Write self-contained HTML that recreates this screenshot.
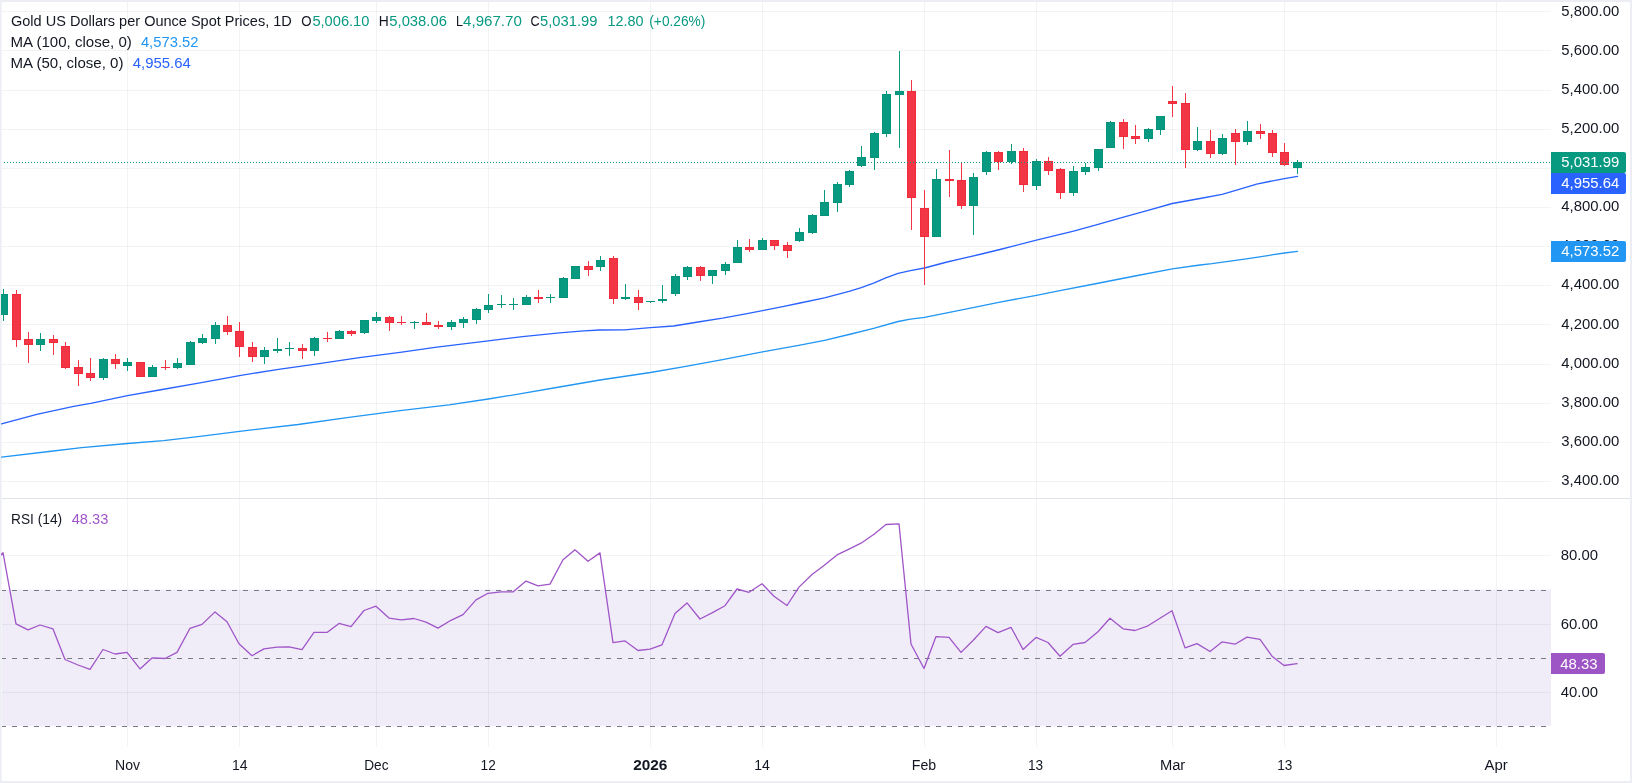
<!DOCTYPE html><html><head><meta charset="utf-8"><title>Gold chart</title><style>html,body{margin:0;padding:0;background:#fff;overflow:hidden}body{width:1632px;height:783px;position:relative;font-family:"Liberation Sans",sans-serif}</style></head><body><svg width="1632" height="783" viewBox="0 0 1632 783" style="position:absolute;left:0;top:0;font-family:'Liberation Sans',sans-serif;font-size:15.5px">
<rect x="0" y="0" width="1632" height="783" fill="#ffffff"/>
<rect x="1" y="2" width="1" height="779" fill="#f3f4f7" shape-rendering="crispEdges"/>
<g shape-rendering="crispEdges">
<rect x="2" y="589.6" width="1549" height="136.3" fill="#f0edf9" shape-rendering="auto"/>
<rect x="2" y="11" width="1549" height="1" fill="#f2f3f3" style="mix-blend-mode:multiply"/>
<rect x="2" y="50" width="1549" height="1" fill="#f2f3f3" style="mix-blend-mode:multiply"/>
<rect x="2" y="90" width="1549" height="1" fill="#f2f3f3" style="mix-blend-mode:multiply"/>
<rect x="2" y="129" width="1549" height="1" fill="#f2f3f3" style="mix-blend-mode:multiply"/>
<rect x="2" y="168" width="1549" height="1" fill="#f2f3f3" style="mix-blend-mode:multiply"/>
<rect x="2" y="207" width="1549" height="1" fill="#f2f3f3" style="mix-blend-mode:multiply"/>
<rect x="2" y="246" width="1549" height="1" fill="#f2f3f3" style="mix-blend-mode:multiply"/>
<rect x="2" y="285" width="1549" height="1" fill="#f2f3f3" style="mix-blend-mode:multiply"/>
<rect x="2" y="324" width="1549" height="1" fill="#f2f3f3" style="mix-blend-mode:multiply"/>
<rect x="2" y="364" width="1549" height="1" fill="#f2f3f3" style="mix-blend-mode:multiply"/>
<rect x="2" y="403" width="1549" height="1" fill="#f2f3f3" style="mix-blend-mode:multiply"/>
<rect x="2" y="442" width="1549" height="1" fill="#f2f3f3" style="mix-blend-mode:multiply"/>
<rect x="2" y="481" width="1549" height="1" fill="#f2f3f3" style="mix-blend-mode:multiply"/>
<rect x="2" y="555" width="1549" height="1" fill="#f2f3f3" style="mix-blend-mode:multiply"/>
<rect x="2" y="624" width="1549" height="1" fill="#f2f3f3" style="mix-blend-mode:multiply"/>
<rect x="2" y="692" width="1549" height="1" fill="#f2f3f3" style="mix-blend-mode:multiply"/>
<rect x="127" y="2" width="1" height="745" fill="#f2f3f3" style="mix-blend-mode:multiply"/>
<rect x="239" y="2" width="1" height="745" fill="#f2f3f3" style="mix-blend-mode:multiply"/>
<rect x="376" y="2" width="1" height="745" fill="#f2f3f3" style="mix-blend-mode:multiply"/>
<rect x="488" y="2" width="1" height="745" fill="#f2f3f3" style="mix-blend-mode:multiply"/>
<rect x="650" y="2" width="1" height="745" fill="#f2f3f3" style="mix-blend-mode:multiply"/>
<rect x="762" y="2" width="1" height="745" fill="#f2f3f3" style="mix-blend-mode:multiply"/>
<rect x="924" y="2" width="1" height="745" fill="#f2f3f3" style="mix-blend-mode:multiply"/>
<rect x="1036" y="2" width="1" height="745" fill="#f2f3f3" style="mix-blend-mode:multiply"/>
<rect x="1172" y="2" width="1" height="745" fill="#f2f3f3" style="mix-blend-mode:multiply"/>
<rect x="1284" y="2" width="1" height="745" fill="#f2f3f3" style="mix-blend-mode:multiply"/>
<rect x="1496" y="2" width="1" height="745" fill="#f2f3f3" style="mix-blend-mode:multiply"/>
</g>
<polyline fill="none" stroke="#2196f3" stroke-width="1.3" stroke-linejoin="round" stroke-linecap="round" points="1.5,457.2 49.0,451.5 81.7,447.6 127.5,443.5 163.5,440.6 200.0,436.4 239.5,431.3 298.1,424.5 347.1,417.7 400.0,410.6 449.0,404.8 488.3,399.0 522.6,393.4 559.4,387.0 600.0,380.0 650.4,372.5 685.8,366.3 722.6,359.6 762.5,351.8 800.0,345.1 824.5,340.4 849.0,334.5 873.6,328.4 898.1,321.5 910.4,319.2 924.5,317.3 959.4,310.4 1000.0,302.1 1036.4,295.3 1059.9,290.7 1096.8,283.5 1134.9,276.0 1172.3,268.9 1200.0,265.0 1211.9,263.7 1246.4,258.9 1269.4,255.3 1284.5,253.0 1297.5,251.4"/>
<polyline fill="none" stroke="#2962ff" stroke-width="1.3" stroke-linejoin="round" stroke-linecap="round" points="1.5,423.9 36.8,414.3 73.6,406.3 90.7,403.4 127.5,395.7 159.4,390.0 200.0,382.8 239.5,375.6 278.5,369.3 314.0,364.3 359.4,357.6 400.0,352.3 436.8,347.1 488.3,340.8 522.6,336.7 559.4,332.8 583.9,330.8 600.0,330.0 624.5,329.8 650.4,327.7 673.6,326.0 698.1,322.0 722.6,318.2 747.1,313.6 762.5,310.6 783.9,306.3 800.0,303.0 824.5,297.8 849.0,291.4 861.3,287.7 873.6,283.2 885.8,277.9 898.1,273.3 910.4,270.6 924.5,268.0 947.1,262.0 959.4,259.2 981.5,254.0 1000.0,249.5 1036.4,240.1 1073.6,231.1 1098.1,224.4 1122.6,217.4 1147.1,210.6 1172.3,203.5 1200.0,198.5 1222.1,194.3 1237.5,189.8 1256.6,184.2 1269.4,181.5 1284.5,178.7 1297.5,176.4"/>
<g shape-rendering="crispEdges">
<rect x="3" y="289" width="1" height="32" fill="#089981"/><rect x="-1" y="294" width="9" height="21" fill="#05937c"/>
<rect x="0" y="295" width="7" height="19" fill="#089981"/>
<rect x="16" y="290" width="1" height="57" fill="#f23645"/><rect x="12" y="294" width="9" height="46" fill="#f02b3b"/>
<rect x="13" y="295" width="7" height="44" fill="#f23645"/>
<rect x="28" y="332" width="1" height="31" fill="#f23645"/><rect x="24" y="339" width="9" height="6" fill="#f02b3b"/>
<rect x="25" y="340" width="7" height="4" fill="#f23645"/>
<rect x="40" y="333" width="1" height="18" fill="#089981"/><rect x="36" y="339" width="9" height="6" fill="#05937c"/>
<rect x="37" y="340" width="7" height="4" fill="#089981"/>
<rect x="53" y="335" width="1" height="20" fill="#f23645"/><rect x="49" y="339" width="9" height="4" fill="#f02b3b"/>
<rect x="50" y="340" width="7" height="2" fill="#f23645"/>
<rect x="65" y="342" width="1" height="27" fill="#f23645"/><rect x="61" y="346" width="9" height="22" fill="#f02b3b"/>
<rect x="62" y="347" width="7" height="20" fill="#f23645"/>
<rect x="78" y="360" width="1" height="26" fill="#f23645"/><rect x="74" y="367" width="9" height="7" fill="#f02b3b"/>
<rect x="75" y="368" width="7" height="5" fill="#f23645"/>
<rect x="90" y="358" width="1" height="23" fill="#f23645"/><rect x="86" y="373" width="9" height="5" fill="#f02b3b"/>
<rect x="87" y="374" width="7" height="3" fill="#f23645"/>
<rect x="103" y="358" width="1" height="22" fill="#089981"/><rect x="99" y="359" width="9" height="19" fill="#05937c"/>
<rect x="100" y="360" width="7" height="17" fill="#089981"/>
<rect x="115" y="354" width="1" height="15" fill="#f23645"/><rect x="111" y="359" width="9" height="5" fill="#f02b3b"/>
<rect x="112" y="360" width="7" height="3" fill="#f23645"/>
<rect x="127" y="358" width="1" height="13" fill="#089981"/><rect x="123" y="362" width="9" height="4" fill="#05937c"/>
<rect x="124" y="363" width="7" height="2" fill="#089981"/>
<rect x="140" y="362" width="1" height="15" fill="#f23645"/><rect x="136" y="362" width="9" height="15" fill="#f02b3b"/>
<rect x="137" y="363" width="7" height="13" fill="#f23645"/>
<rect x="152" y="365" width="1" height="12" fill="#089981"/><rect x="148" y="367" width="9" height="10" fill="#05937c"/>
<rect x="149" y="368" width="7" height="8" fill="#089981"/>
<rect x="165" y="360" width="1" height="10" fill="#f23645"/><rect x="161" y="367" width="9" height="1" fill="#f02b3b"/>
<rect x="177" y="358" width="1" height="11" fill="#089981"/><rect x="173" y="363" width="9" height="5" fill="#05937c"/>
<rect x="174" y="364" width="7" height="3" fill="#089981"/>
<rect x="190" y="341" width="1" height="24" fill="#089981"/><rect x="186" y="342" width="9" height="23" fill="#05937c"/>
<rect x="187" y="343" width="7" height="21" fill="#089981"/>
<rect x="202" y="334" width="1" height="10" fill="#089981"/><rect x="198" y="338" width="9" height="5" fill="#05937c"/>
<rect x="199" y="339" width="7" height="3" fill="#089981"/>
<rect x="215" y="322" width="1" height="22" fill="#089981"/><rect x="211" y="325" width="9" height="14" fill="#05937c"/>
<rect x="212" y="326" width="7" height="12" fill="#089981"/>
<rect x="227" y="316" width="1" height="19" fill="#f23645"/><rect x="223" y="325" width="9" height="7" fill="#f02b3b"/>
<rect x="224" y="326" width="7" height="5" fill="#f23645"/>
<rect x="239" y="322" width="1" height="35" fill="#f23645"/><rect x="235" y="331" width="9" height="16" fill="#f02b3b"/>
<rect x="236" y="332" width="7" height="14" fill="#f23645"/>
<rect x="252" y="342" width="1" height="20" fill="#f23645"/><rect x="248" y="347" width="9" height="10" fill="#f02b3b"/>
<rect x="249" y="348" width="7" height="8" fill="#f23645"/>
<rect x="264" y="347" width="1" height="17" fill="#089981"/><rect x="260" y="350" width="9" height="7" fill="#05937c"/>
<rect x="261" y="351" width="7" height="5" fill="#089981"/>
<rect x="277" y="338" width="1" height="15" fill="#089981"/><rect x="273" y="349" width="9" height="2" fill="#05937c"/>
<rect x="289" y="342" width="1" height="14" fill="#089981"/><rect x="285" y="348" width="9" height="1" fill="#05937c"/>
<rect x="302" y="344" width="1" height="15" fill="#f23645"/><rect x="298" y="348" width="9" height="3" fill="#f02b3b"/>
<rect x="299" y="349" width="7" height="1" fill="#f23645"/>
<rect x="314" y="337" width="1" height="19" fill="#089981"/><rect x="310" y="338" width="9" height="13" fill="#05937c"/>
<rect x="311" y="339" width="7" height="11" fill="#089981"/>
<rect x="327" y="332" width="1" height="10" fill="#f23645"/><rect x="323" y="338" width="9" height="1" fill="#f02b3b"/>
<rect x="339" y="330" width="1" height="9" fill="#089981"/><rect x="335" y="331" width="9" height="8" fill="#05937c"/>
<rect x="336" y="332" width="7" height="6" fill="#089981"/>
<rect x="351" y="330" width="1" height="6" fill="#f23645"/><rect x="347" y="331" width="9" height="3" fill="#f02b3b"/>
<rect x="348" y="332" width="7" height="1" fill="#f23645"/>
<rect x="364" y="320" width="1" height="14" fill="#089981"/><rect x="360" y="320" width="9" height="13" fill="#05937c"/>
<rect x="361" y="321" width="7" height="11" fill="#089981"/>
<rect x="376" y="312" width="1" height="11" fill="#089981"/><rect x="372" y="317" width="9" height="4" fill="#05937c"/>
<rect x="373" y="318" width="7" height="2" fill="#089981"/>
<rect x="389" y="316" width="1" height="15" fill="#f23645"/><rect x="385" y="317" width="9" height="6" fill="#f02b3b"/>
<rect x="386" y="318" width="7" height="4" fill="#f23645"/>
<rect x="401" y="316" width="1" height="9" fill="#f23645"/><rect x="397" y="322" width="9" height="1" fill="#f02b3b"/>
<rect x="414" y="321" width="1" height="8" fill="#089981"/><rect x="410" y="322" width="9" height="1" fill="#05937c"/>
<rect x="426" y="313" width="1" height="12" fill="#f23645"/><rect x="422" y="322" width="9" height="3" fill="#f02b3b"/>
<rect x="423" y="323" width="7" height="1" fill="#f23645"/>
<rect x="438" y="321" width="1" height="8" fill="#f23645"/><rect x="434" y="325" width="9" height="2" fill="#f02b3b"/>
<rect x="451" y="320" width="1" height="10" fill="#089981"/><rect x="447" y="322" width="9" height="5" fill="#05937c"/>
<rect x="448" y="323" width="7" height="3" fill="#089981"/>
<rect x="463" y="317" width="1" height="11" fill="#089981"/><rect x="459" y="319" width="9" height="4" fill="#05937c"/>
<rect x="460" y="320" width="7" height="2" fill="#089981"/>
<rect x="476" y="308" width="1" height="16" fill="#089981"/><rect x="472" y="309" width="9" height="11" fill="#05937c"/>
<rect x="473" y="310" width="7" height="9" fill="#089981"/>
<rect x="488" y="294" width="1" height="19" fill="#089981"/><rect x="484" y="305" width="9" height="5" fill="#05937c"/>
<rect x="485" y="306" width="7" height="3" fill="#089981"/>
<rect x="501" y="295" width="1" height="13" fill="#089981"/><rect x="497" y="304" width="9" height="1" fill="#05937c"/>
<rect x="513" y="298" width="1" height="12" fill="#089981"/><rect x="509" y="304" width="9" height="1" fill="#05937c"/>
<rect x="526" y="295" width="1" height="10" fill="#089981"/><rect x="522" y="297" width="9" height="8" fill="#05937c"/>
<rect x="523" y="298" width="7" height="6" fill="#089981"/>
<rect x="538" y="290" width="1" height="13" fill="#f23645"/><rect x="534" y="297" width="9" height="2" fill="#f02b3b"/>
<rect x="550" y="294" width="1" height="9" fill="#089981"/><rect x="546" y="297" width="9" height="1" fill="#05937c"/>
<rect x="563" y="277" width="1" height="21" fill="#089981"/><rect x="559" y="278" width="9" height="20" fill="#05937c"/>
<rect x="560" y="279" width="7" height="18" fill="#089981"/>
<rect x="575" y="266" width="1" height="13" fill="#089981"/><rect x="571" y="266" width="9" height="13" fill="#05937c"/>
<rect x="572" y="267" width="7" height="11" fill="#089981"/>
<rect x="588" y="261" width="1" height="15" fill="#f23645"/><rect x="584" y="266" width="9" height="4" fill="#f02b3b"/>
<rect x="585" y="267" width="7" height="2" fill="#f23645"/>
<rect x="600" y="256" width="1" height="15" fill="#089981"/><rect x="596" y="260" width="9" height="7" fill="#05937c"/>
<rect x="597" y="261" width="7" height="5" fill="#089981"/>
<rect x="613" y="256" width="1" height="48" fill="#f23645"/><rect x="609" y="258" width="9" height="41" fill="#f02b3b"/>
<rect x="610" y="259" width="7" height="39" fill="#f23645"/>
<rect x="625" y="284" width="1" height="16" fill="#089981"/><rect x="621" y="297" width="9" height="2" fill="#05937c"/>
<rect x="638" y="290" width="1" height="20" fill="#f23645"/><rect x="634" y="297" width="9" height="6" fill="#f02b3b"/>
<rect x="635" y="298" width="7" height="4" fill="#f23645"/>
<rect x="650" y="301" width="1" height="2" fill="#089981"/><rect x="646" y="301" width="9" height="1" fill="#05937c"/>
<rect x="662" y="285" width="1" height="18" fill="#089981"/><rect x="658" y="299" width="9" height="2" fill="#05937c"/>
<rect x="675" y="274" width="1" height="22" fill="#089981"/><rect x="671" y="276" width="9" height="18" fill="#05937c"/>
<rect x="672" y="277" width="7" height="16" fill="#089981"/>
<rect x="687" y="266" width="1" height="14" fill="#089981"/><rect x="683" y="267" width="9" height="10" fill="#05937c"/>
<rect x="684" y="268" width="7" height="8" fill="#089981"/>
<rect x="700" y="266" width="1" height="15" fill="#f23645"/><rect x="696" y="267" width="9" height="9" fill="#f02b3b"/>
<rect x="697" y="268" width="7" height="7" fill="#f23645"/>
<rect x="712" y="270" width="1" height="14" fill="#089981"/><rect x="708" y="270" width="9" height="6" fill="#05937c"/>
<rect x="709" y="271" width="7" height="4" fill="#089981"/>
<rect x="725" y="262" width="1" height="13" fill="#089981"/><rect x="721" y="264" width="9" height="7" fill="#05937c"/>
<rect x="722" y="265" width="7" height="5" fill="#089981"/>
<rect x="737" y="240" width="1" height="23" fill="#089981"/><rect x="733" y="247" width="9" height="16" fill="#05937c"/>
<rect x="734" y="248" width="7" height="14" fill="#089981"/>
<rect x="749" y="239" width="1" height="13" fill="#f23645"/><rect x="745" y="247" width="9" height="3" fill="#f02b3b"/>
<rect x="746" y="248" width="7" height="1" fill="#f23645"/>
<rect x="762" y="238" width="1" height="12" fill="#089981"/><rect x="758" y="240" width="9" height="10" fill="#05937c"/>
<rect x="759" y="241" width="7" height="8" fill="#089981"/>
<rect x="774" y="240" width="1" height="10" fill="#f23645"/><rect x="770" y="240" width="9" height="6" fill="#f02b3b"/>
<rect x="771" y="241" width="7" height="4" fill="#f23645"/>
<rect x="787" y="242" width="1" height="16" fill="#f23645"/><rect x="783" y="245" width="9" height="6" fill="#f02b3b"/>
<rect x="784" y="246" width="7" height="4" fill="#f23645"/>
<rect x="799" y="228" width="1" height="14" fill="#089981"/><rect x="795" y="232" width="9" height="9" fill="#05937c"/>
<rect x="796" y="233" width="7" height="7" fill="#089981"/>
<rect x="812" y="214" width="1" height="20" fill="#089981"/><rect x="808" y="215" width="9" height="18" fill="#05937c"/>
<rect x="809" y="216" width="7" height="16" fill="#089981"/>
<rect x="824" y="190" width="1" height="26" fill="#089981"/><rect x="820" y="202" width="9" height="14" fill="#05937c"/>
<rect x="821" y="203" width="7" height="12" fill="#089981"/>
<rect x="837" y="182" width="1" height="30" fill="#089981"/><rect x="833" y="184" width="9" height="19" fill="#05937c"/>
<rect x="834" y="185" width="7" height="17" fill="#089981"/>
<rect x="849" y="170" width="1" height="17" fill="#089981"/><rect x="845" y="171" width="9" height="14" fill="#05937c"/>
<rect x="846" y="172" width="7" height="12" fill="#089981"/>
<rect x="861" y="146" width="1" height="21" fill="#089981"/><rect x="857" y="157" width="9" height="9" fill="#05937c"/>
<rect x="858" y="158" width="7" height="7" fill="#089981"/>
<rect x="874" y="132" width="1" height="38" fill="#089981"/><rect x="870" y="133" width="9" height="25" fill="#05937c"/>
<rect x="871" y="134" width="7" height="23" fill="#089981"/>
<rect x="886" y="91" width="1" height="46" fill="#089981"/><rect x="882" y="94" width="9" height="40" fill="#05937c"/>
<rect x="883" y="95" width="7" height="38" fill="#089981"/>
<rect x="899" y="51" width="1" height="97" fill="#089981"/><rect x="895" y="91" width="9" height="4" fill="#05937c"/>
<rect x="896" y="92" width="7" height="2" fill="#089981"/>
<rect x="911" y="80" width="1" height="150" fill="#f23645"/><rect x="907" y="91" width="9" height="107" fill="#f02b3b"/>
<rect x="908" y="92" width="7" height="105" fill="#f23645"/>
<rect x="924" y="190" width="1" height="95" fill="#f23645"/><rect x="920" y="208" width="9" height="29" fill="#f02b3b"/>
<rect x="921" y="209" width="7" height="27" fill="#f23645"/>
<rect x="936" y="169" width="1" height="68" fill="#089981"/><rect x="932" y="179" width="9" height="58" fill="#05937c"/>
<rect x="933" y="180" width="7" height="56" fill="#089981"/>
<rect x="949" y="150" width="1" height="47" fill="#f23645"/><rect x="945" y="179" width="9" height="2" fill="#f02b3b"/>
<rect x="961" y="162" width="1" height="47" fill="#f23645"/><rect x="957" y="180" width="9" height="26" fill="#f02b3b"/>
<rect x="958" y="181" width="7" height="24" fill="#f23645"/>
<rect x="973" y="173" width="1" height="62" fill="#089981"/><rect x="969" y="177" width="9" height="29" fill="#05937c"/>
<rect x="970" y="178" width="7" height="27" fill="#089981"/>
<rect x="986" y="151" width="1" height="24" fill="#089981"/><rect x="982" y="152" width="9" height="20" fill="#05937c"/>
<rect x="983" y="153" width="7" height="18" fill="#089981"/>
<rect x="998" y="151" width="1" height="19" fill="#f23645"/><rect x="994" y="152" width="9" height="10" fill="#f02b3b"/>
<rect x="995" y="153" width="7" height="8" fill="#f23645"/>
<rect x="1011" y="144" width="1" height="20" fill="#089981"/><rect x="1007" y="151" width="9" height="11" fill="#05937c"/>
<rect x="1008" y="152" width="7" height="9" fill="#089981"/>
<rect x="1023" y="148" width="1" height="44" fill="#f23645"/><rect x="1019" y="151" width="9" height="34" fill="#f02b3b"/>
<rect x="1020" y="152" width="7" height="32" fill="#f23645"/>
<rect x="1036" y="159" width="1" height="31" fill="#089981"/><rect x="1032" y="161" width="9" height="25" fill="#05937c"/>
<rect x="1033" y="162" width="7" height="23" fill="#089981"/>
<rect x="1048" y="157" width="1" height="18" fill="#f23645"/><rect x="1044" y="161" width="9" height="10" fill="#f02b3b"/>
<rect x="1045" y="162" width="7" height="8" fill="#f23645"/>
<rect x="1060" y="168" width="1" height="31" fill="#f23645"/><rect x="1056" y="169" width="9" height="24" fill="#f02b3b"/>
<rect x="1057" y="170" width="7" height="22" fill="#f23645"/>
<rect x="1073" y="166" width="1" height="30" fill="#089981"/><rect x="1069" y="171" width="9" height="22" fill="#05937c"/>
<rect x="1070" y="172" width="7" height="20" fill="#089981"/>
<rect x="1085" y="163" width="1" height="12" fill="#089981"/><rect x="1081" y="167" width="9" height="5" fill="#05937c"/>
<rect x="1082" y="168" width="7" height="3" fill="#089981"/>
<rect x="1098" y="149" width="1" height="22" fill="#089981"/><rect x="1094" y="149" width="9" height="19" fill="#05937c"/>
<rect x="1095" y="150" width="7" height="17" fill="#089981"/>
<rect x="1110" y="121" width="1" height="27" fill="#089981"/><rect x="1106" y="122" width="9" height="26" fill="#05937c"/>
<rect x="1107" y="123" width="7" height="24" fill="#089981"/>
<rect x="1123" y="119" width="1" height="30" fill="#f23645"/><rect x="1119" y="122" width="9" height="15" fill="#f02b3b"/>
<rect x="1120" y="123" width="7" height="13" fill="#f23645"/>
<rect x="1135" y="125" width="1" height="19" fill="#f23645"/><rect x="1131" y="136" width="9" height="3" fill="#f02b3b"/>
<rect x="1132" y="137" width="7" height="1" fill="#f23645"/>
<rect x="1148" y="128" width="1" height="14" fill="#089981"/><rect x="1144" y="129" width="9" height="10" fill="#05937c"/>
<rect x="1145" y="130" width="7" height="8" fill="#089981"/>
<rect x="1160" y="116" width="1" height="19" fill="#089981"/><rect x="1156" y="116" width="9" height="14" fill="#05937c"/>
<rect x="1157" y="117" width="7" height="12" fill="#089981"/>
<rect x="1172" y="86" width="1" height="31" fill="#f23645"/><rect x="1168" y="101" width="9" height="3" fill="#f02b3b"/>
<rect x="1169" y="102" width="7" height="1" fill="#f23645"/>
<rect x="1185" y="93" width="1" height="75" fill="#f23645"/><rect x="1181" y="103" width="9" height="47" fill="#f02b3b"/>
<rect x="1182" y="104" width="7" height="45" fill="#f23645"/>
<rect x="1197" y="127" width="1" height="24" fill="#089981"/><rect x="1193" y="141" width="9" height="9" fill="#05937c"/>
<rect x="1194" y="142" width="7" height="7" fill="#089981"/>
<rect x="1210" y="130" width="1" height="28" fill="#f23645"/><rect x="1206" y="141" width="9" height="13" fill="#f02b3b"/>
<rect x="1207" y="142" width="7" height="11" fill="#f23645"/>
<rect x="1222" y="134" width="1" height="21" fill="#089981"/><rect x="1218" y="138" width="9" height="16" fill="#05937c"/>
<rect x="1219" y="139" width="7" height="14" fill="#089981"/>
<rect x="1235" y="129" width="1" height="36" fill="#f23645"/><rect x="1231" y="133" width="9" height="9" fill="#f02b3b"/>
<rect x="1232" y="134" width="7" height="7" fill="#f23645"/>
<rect x="1247" y="121" width="1" height="24" fill="#089981"/><rect x="1243" y="131" width="9" height="11" fill="#05937c"/>
<rect x="1244" y="132" width="7" height="9" fill="#089981"/>
<rect x="1260" y="124" width="1" height="15" fill="#f23645"/><rect x="1256" y="131" width="9" height="3" fill="#f02b3b"/>
<rect x="1257" y="132" width="7" height="1" fill="#f23645"/>
<rect x="1272" y="130" width="1" height="27" fill="#f23645"/><rect x="1268" y="133" width="9" height="20" fill="#f02b3b"/>
<rect x="1269" y="134" width="7" height="18" fill="#f23645"/>
<rect x="1284" y="143" width="1" height="23" fill="#f23645"/><rect x="1280" y="152" width="9" height="13" fill="#f02b3b"/>
<rect x="1281" y="153" width="7" height="11" fill="#f23645"/>
<rect x="1297" y="160" width="1" height="14" fill="#089981"/><rect x="1293" y="162" width="9" height="6" fill="#05937c"/>
<rect x="1294" y="163" width="7" height="4" fill="#089981"/>
<g fill="#089981"><rect x="4" y="162" width="1" height="1"/><rect x="7" y="162" width="1" height="1"/><rect x="10" y="162" width="1" height="1"/><rect x="13" y="162" width="1" height="1"/><rect x="16" y="162" width="1" height="1"/><rect x="19" y="162" width="1" height="1"/><rect x="22" y="162" width="1" height="1"/><rect x="25" y="162" width="1" height="1"/><rect x="28" y="162" width="1" height="1"/><rect x="31" y="162" width="1" height="1"/><rect x="34" y="162" width="1" height="1"/><rect x="37" y="162" width="1" height="1"/><rect x="40" y="162" width="1" height="1"/><rect x="43" y="162" width="1" height="1"/><rect x="46" y="162" width="1" height="1"/><rect x="49" y="162" width="1" height="1"/><rect x="52" y="162" width="1" height="1"/><rect x="55" y="162" width="1" height="1"/><rect x="58" y="162" width="1" height="1"/><rect x="61" y="162" width="1" height="1"/><rect x="64" y="162" width="1" height="1"/><rect x="67" y="162" width="1" height="1"/><rect x="70" y="162" width="1" height="1"/><rect x="73" y="162" width="1" height="1"/><rect x="76" y="162" width="1" height="1"/><rect x="79" y="162" width="1" height="1"/><rect x="82" y="162" width="1" height="1"/><rect x="85" y="162" width="1" height="1"/><rect x="88" y="162" width="1" height="1"/><rect x="91" y="162" width="1" height="1"/><rect x="94" y="162" width="1" height="1"/><rect x="97" y="162" width="1" height="1"/><rect x="100" y="162" width="1" height="1"/><rect x="103" y="162" width="1" height="1"/><rect x="106" y="162" width="1" height="1"/><rect x="109" y="162" width="1" height="1"/><rect x="112" y="162" width="1" height="1"/><rect x="115" y="162" width="1" height="1"/><rect x="118" y="162" width="1" height="1"/><rect x="121" y="162" width="1" height="1"/><rect x="124" y="162" width="1" height="1"/><rect x="127" y="162" width="1" height="1"/><rect x="130" y="162" width="1" height="1"/><rect x="133" y="162" width="1" height="1"/><rect x="136" y="162" width="1" height="1"/><rect x="139" y="162" width="1" height="1"/><rect x="142" y="162" width="1" height="1"/><rect x="145" y="162" width="1" height="1"/><rect x="148" y="162" width="1" height="1"/><rect x="151" y="162" width="1" height="1"/><rect x="154" y="162" width="1" height="1"/><rect x="157" y="162" width="1" height="1"/><rect x="160" y="162" width="1" height="1"/><rect x="163" y="162" width="1" height="1"/><rect x="166" y="162" width="1" height="1"/><rect x="169" y="162" width="1" height="1"/><rect x="172" y="162" width="1" height="1"/><rect x="175" y="162" width="1" height="1"/><rect x="178" y="162" width="1" height="1"/><rect x="181" y="162" width="1" height="1"/><rect x="184" y="162" width="1" height="1"/><rect x="187" y="162" width="1" height="1"/><rect x="190" y="162" width="1" height="1"/><rect x="193" y="162" width="1" height="1"/><rect x="196" y="162" width="1" height="1"/><rect x="199" y="162" width="1" height="1"/><rect x="202" y="162" width="1" height="1"/><rect x="205" y="162" width="1" height="1"/><rect x="208" y="162" width="1" height="1"/><rect x="211" y="162" width="1" height="1"/><rect x="214" y="162" width="1" height="1"/><rect x="217" y="162" width="1" height="1"/><rect x="220" y="162" width="1" height="1"/><rect x="223" y="162" width="1" height="1"/><rect x="226" y="162" width="1" height="1"/><rect x="229" y="162" width="1" height="1"/><rect x="232" y="162" width="1" height="1"/><rect x="235" y="162" width="1" height="1"/><rect x="238" y="162" width="1" height="1"/><rect x="241" y="162" width="1" height="1"/><rect x="244" y="162" width="1" height="1"/><rect x="247" y="162" width="1" height="1"/><rect x="250" y="162" width="1" height="1"/><rect x="253" y="162" width="1" height="1"/><rect x="256" y="162" width="1" height="1"/><rect x="259" y="162" width="1" height="1"/><rect x="262" y="162" width="1" height="1"/><rect x="265" y="162" width="1" height="1"/><rect x="268" y="162" width="1" height="1"/><rect x="271" y="162" width="1" height="1"/><rect x="274" y="162" width="1" height="1"/><rect x="277" y="162" width="1" height="1"/><rect x="280" y="162" width="1" height="1"/><rect x="283" y="162" width="1" height="1"/><rect x="286" y="162" width="1" height="1"/><rect x="289" y="162" width="1" height="1"/><rect x="292" y="162" width="1" height="1"/><rect x="295" y="162" width="1" height="1"/><rect x="298" y="162" width="1" height="1"/><rect x="301" y="162" width="1" height="1"/><rect x="304" y="162" width="1" height="1"/><rect x="307" y="162" width="1" height="1"/><rect x="310" y="162" width="1" height="1"/><rect x="313" y="162" width="1" height="1"/><rect x="316" y="162" width="1" height="1"/><rect x="319" y="162" width="1" height="1"/><rect x="322" y="162" width="1" height="1"/><rect x="325" y="162" width="1" height="1"/><rect x="328" y="162" width="1" height="1"/><rect x="331" y="162" width="1" height="1"/><rect x="334" y="162" width="1" height="1"/><rect x="337" y="162" width="1" height="1"/><rect x="340" y="162" width="1" height="1"/><rect x="343" y="162" width="1" height="1"/><rect x="346" y="162" width="1" height="1"/><rect x="349" y="162" width="1" height="1"/><rect x="352" y="162" width="1" height="1"/><rect x="355" y="162" width="1" height="1"/><rect x="358" y="162" width="1" height="1"/><rect x="361" y="162" width="1" height="1"/><rect x="364" y="162" width="1" height="1"/><rect x="367" y="162" width="1" height="1"/><rect x="370" y="162" width="1" height="1"/><rect x="373" y="162" width="1" height="1"/><rect x="376" y="162" width="1" height="1"/><rect x="379" y="162" width="1" height="1"/><rect x="382" y="162" width="1" height="1"/><rect x="385" y="162" width="1" height="1"/><rect x="388" y="162" width="1" height="1"/><rect x="391" y="162" width="1" height="1"/><rect x="394" y="162" width="1" height="1"/><rect x="397" y="162" width="1" height="1"/><rect x="400" y="162" width="1" height="1"/><rect x="403" y="162" width="1" height="1"/><rect x="406" y="162" width="1" height="1"/><rect x="409" y="162" width="1" height="1"/><rect x="412" y="162" width="1" height="1"/><rect x="415" y="162" width="1" height="1"/><rect x="418" y="162" width="1" height="1"/><rect x="421" y="162" width="1" height="1"/><rect x="424" y="162" width="1" height="1"/><rect x="427" y="162" width="1" height="1"/><rect x="430" y="162" width="1" height="1"/><rect x="433" y="162" width="1" height="1"/><rect x="436" y="162" width="1" height="1"/><rect x="439" y="162" width="1" height="1"/><rect x="442" y="162" width="1" height="1"/><rect x="445" y="162" width="1" height="1"/><rect x="448" y="162" width="1" height="1"/><rect x="451" y="162" width="1" height="1"/><rect x="454" y="162" width="1" height="1"/><rect x="457" y="162" width="1" height="1"/><rect x="460" y="162" width="1" height="1"/><rect x="463" y="162" width="1" height="1"/><rect x="466" y="162" width="1" height="1"/><rect x="469" y="162" width="1" height="1"/><rect x="472" y="162" width="1" height="1"/><rect x="475" y="162" width="1" height="1"/><rect x="478" y="162" width="1" height="1"/><rect x="481" y="162" width="1" height="1"/><rect x="484" y="162" width="1" height="1"/><rect x="487" y="162" width="1" height="1"/><rect x="490" y="162" width="1" height="1"/><rect x="493" y="162" width="1" height="1"/><rect x="496" y="162" width="1" height="1"/><rect x="499" y="162" width="1" height="1"/><rect x="502" y="162" width="1" height="1"/><rect x="505" y="162" width="1" height="1"/><rect x="508" y="162" width="1" height="1"/><rect x="511" y="162" width="1" height="1"/><rect x="514" y="162" width="1" height="1"/><rect x="517" y="162" width="1" height="1"/><rect x="520" y="162" width="1" height="1"/><rect x="523" y="162" width="1" height="1"/><rect x="526" y="162" width="1" height="1"/><rect x="529" y="162" width="1" height="1"/><rect x="532" y="162" width="1" height="1"/><rect x="535" y="162" width="1" height="1"/><rect x="538" y="162" width="1" height="1"/><rect x="541" y="162" width="1" height="1"/><rect x="544" y="162" width="1" height="1"/><rect x="547" y="162" width="1" height="1"/><rect x="550" y="162" width="1" height="1"/><rect x="553" y="162" width="1" height="1"/><rect x="556" y="162" width="1" height="1"/><rect x="559" y="162" width="1" height="1"/><rect x="562" y="162" width="1" height="1"/><rect x="565" y="162" width="1" height="1"/><rect x="568" y="162" width="1" height="1"/><rect x="571" y="162" width="1" height="1"/><rect x="574" y="162" width="1" height="1"/><rect x="577" y="162" width="1" height="1"/><rect x="580" y="162" width="1" height="1"/><rect x="583" y="162" width="1" height="1"/><rect x="586" y="162" width="1" height="1"/><rect x="589" y="162" width="1" height="1"/><rect x="592" y="162" width="1" height="1"/><rect x="595" y="162" width="1" height="1"/><rect x="598" y="162" width="1" height="1"/><rect x="601" y="162" width="1" height="1"/><rect x="604" y="162" width="1" height="1"/><rect x="607" y="162" width="1" height="1"/><rect x="610" y="162" width="1" height="1"/><rect x="613" y="162" width="1" height="1"/><rect x="616" y="162" width="1" height="1"/><rect x="619" y="162" width="1" height="1"/><rect x="622" y="162" width="1" height="1"/><rect x="625" y="162" width="1" height="1"/><rect x="628" y="162" width="1" height="1"/><rect x="631" y="162" width="1" height="1"/><rect x="634" y="162" width="1" height="1"/><rect x="637" y="162" width="1" height="1"/><rect x="640" y="162" width="1" height="1"/><rect x="643" y="162" width="1" height="1"/><rect x="646" y="162" width="1" height="1"/><rect x="649" y="162" width="1" height="1"/><rect x="652" y="162" width="1" height="1"/><rect x="655" y="162" width="1" height="1"/><rect x="658" y="162" width="1" height="1"/><rect x="661" y="162" width="1" height="1"/><rect x="664" y="162" width="1" height="1"/><rect x="667" y="162" width="1" height="1"/><rect x="670" y="162" width="1" height="1"/><rect x="673" y="162" width="1" height="1"/><rect x="676" y="162" width="1" height="1"/><rect x="679" y="162" width="1" height="1"/><rect x="682" y="162" width="1" height="1"/><rect x="685" y="162" width="1" height="1"/><rect x="688" y="162" width="1" height="1"/><rect x="691" y="162" width="1" height="1"/><rect x="694" y="162" width="1" height="1"/><rect x="697" y="162" width="1" height="1"/><rect x="700" y="162" width="1" height="1"/><rect x="703" y="162" width="1" height="1"/><rect x="706" y="162" width="1" height="1"/><rect x="709" y="162" width="1" height="1"/><rect x="712" y="162" width="1" height="1"/><rect x="715" y="162" width="1" height="1"/><rect x="718" y="162" width="1" height="1"/><rect x="721" y="162" width="1" height="1"/><rect x="724" y="162" width="1" height="1"/><rect x="727" y="162" width="1" height="1"/><rect x="730" y="162" width="1" height="1"/><rect x="733" y="162" width="1" height="1"/><rect x="736" y="162" width="1" height="1"/><rect x="739" y="162" width="1" height="1"/><rect x="742" y="162" width="1" height="1"/><rect x="745" y="162" width="1" height="1"/><rect x="748" y="162" width="1" height="1"/><rect x="751" y="162" width="1" height="1"/><rect x="754" y="162" width="1" height="1"/><rect x="757" y="162" width="1" height="1"/><rect x="760" y="162" width="1" height="1"/><rect x="763" y="162" width="1" height="1"/><rect x="766" y="162" width="1" height="1"/><rect x="769" y="162" width="1" height="1"/><rect x="772" y="162" width="1" height="1"/><rect x="775" y="162" width="1" height="1"/><rect x="778" y="162" width="1" height="1"/><rect x="781" y="162" width="1" height="1"/><rect x="784" y="162" width="1" height="1"/><rect x="787" y="162" width="1" height="1"/><rect x="790" y="162" width="1" height="1"/><rect x="793" y="162" width="1" height="1"/><rect x="796" y="162" width="1" height="1"/><rect x="799" y="162" width="1" height="1"/><rect x="802" y="162" width="1" height="1"/><rect x="805" y="162" width="1" height="1"/><rect x="808" y="162" width="1" height="1"/><rect x="811" y="162" width="1" height="1"/><rect x="814" y="162" width="1" height="1"/><rect x="817" y="162" width="1" height="1"/><rect x="820" y="162" width="1" height="1"/><rect x="823" y="162" width="1" height="1"/><rect x="826" y="162" width="1" height="1"/><rect x="829" y="162" width="1" height="1"/><rect x="832" y="162" width="1" height="1"/><rect x="835" y="162" width="1" height="1"/><rect x="838" y="162" width="1" height="1"/><rect x="841" y="162" width="1" height="1"/><rect x="844" y="162" width="1" height="1"/><rect x="847" y="162" width="1" height="1"/><rect x="850" y="162" width="1" height="1"/><rect x="853" y="162" width="1" height="1"/><rect x="856" y="162" width="1" height="1"/><rect x="859" y="162" width="1" height="1"/><rect x="862" y="162" width="1" height="1"/><rect x="865" y="162" width="1" height="1"/><rect x="868" y="162" width="1" height="1"/><rect x="871" y="162" width="1" height="1"/><rect x="874" y="162" width="1" height="1"/><rect x="877" y="162" width="1" height="1"/><rect x="880" y="162" width="1" height="1"/><rect x="883" y="162" width="1" height="1"/><rect x="886" y="162" width="1" height="1"/><rect x="889" y="162" width="1" height="1"/><rect x="892" y="162" width="1" height="1"/><rect x="895" y="162" width="1" height="1"/><rect x="898" y="162" width="1" height="1"/><rect x="901" y="162" width="1" height="1"/><rect x="904" y="162" width="1" height="1"/><rect x="907" y="162" width="1" height="1"/><rect x="910" y="162" width="1" height="1"/><rect x="913" y="162" width="1" height="1"/><rect x="916" y="162" width="1" height="1"/><rect x="919" y="162" width="1" height="1"/><rect x="922" y="162" width="1" height="1"/><rect x="925" y="162" width="1" height="1"/><rect x="928" y="162" width="1" height="1"/><rect x="931" y="162" width="1" height="1"/><rect x="934" y="162" width="1" height="1"/><rect x="937" y="162" width="1" height="1"/><rect x="940" y="162" width="1" height="1"/><rect x="943" y="162" width="1" height="1"/><rect x="946" y="162" width="1" height="1"/><rect x="949" y="162" width="1" height="1"/><rect x="952" y="162" width="1" height="1"/><rect x="955" y="162" width="1" height="1"/><rect x="958" y="162" width="1" height="1"/><rect x="961" y="162" width="1" height="1"/><rect x="964" y="162" width="1" height="1"/><rect x="967" y="162" width="1" height="1"/><rect x="970" y="162" width="1" height="1"/><rect x="973" y="162" width="1" height="1"/><rect x="976" y="162" width="1" height="1"/><rect x="979" y="162" width="1" height="1"/><rect x="982" y="162" width="1" height="1"/><rect x="985" y="162" width="1" height="1"/><rect x="988" y="162" width="1" height="1"/><rect x="991" y="162" width="1" height="1"/><rect x="994" y="162" width="1" height="1"/><rect x="997" y="162" width="1" height="1"/><rect x="1000" y="162" width="1" height="1"/><rect x="1003" y="162" width="1" height="1"/><rect x="1006" y="162" width="1" height="1"/><rect x="1009" y="162" width="1" height="1"/><rect x="1012" y="162" width="1" height="1"/><rect x="1015" y="162" width="1" height="1"/><rect x="1018" y="162" width="1" height="1"/><rect x="1021" y="162" width="1" height="1"/><rect x="1024" y="162" width="1" height="1"/><rect x="1027" y="162" width="1" height="1"/><rect x="1030" y="162" width="1" height="1"/><rect x="1033" y="162" width="1" height="1"/><rect x="1036" y="162" width="1" height="1"/><rect x="1039" y="162" width="1" height="1"/><rect x="1042" y="162" width="1" height="1"/><rect x="1045" y="162" width="1" height="1"/><rect x="1048" y="162" width="1" height="1"/><rect x="1051" y="162" width="1" height="1"/><rect x="1054" y="162" width="1" height="1"/><rect x="1057" y="162" width="1" height="1"/><rect x="1060" y="162" width="1" height="1"/><rect x="1063" y="162" width="1" height="1"/><rect x="1066" y="162" width="1" height="1"/><rect x="1069" y="162" width="1" height="1"/><rect x="1072" y="162" width="1" height="1"/><rect x="1075" y="162" width="1" height="1"/><rect x="1078" y="162" width="1" height="1"/><rect x="1081" y="162" width="1" height="1"/><rect x="1084" y="162" width="1" height="1"/><rect x="1087" y="162" width="1" height="1"/><rect x="1090" y="162" width="1" height="1"/><rect x="1093" y="162" width="1" height="1"/><rect x="1096" y="162" width="1" height="1"/><rect x="1099" y="162" width="1" height="1"/><rect x="1102" y="162" width="1" height="1"/><rect x="1105" y="162" width="1" height="1"/><rect x="1108" y="162" width="1" height="1"/><rect x="1111" y="162" width="1" height="1"/><rect x="1114" y="162" width="1" height="1"/><rect x="1117" y="162" width="1" height="1"/><rect x="1120" y="162" width="1" height="1"/><rect x="1123" y="162" width="1" height="1"/><rect x="1126" y="162" width="1" height="1"/><rect x="1129" y="162" width="1" height="1"/><rect x="1132" y="162" width="1" height="1"/><rect x="1135" y="162" width="1" height="1"/><rect x="1138" y="162" width="1" height="1"/><rect x="1141" y="162" width="1" height="1"/><rect x="1144" y="162" width="1" height="1"/><rect x="1147" y="162" width="1" height="1"/><rect x="1150" y="162" width="1" height="1"/><rect x="1153" y="162" width="1" height="1"/><rect x="1156" y="162" width="1" height="1"/><rect x="1159" y="162" width="1" height="1"/><rect x="1162" y="162" width="1" height="1"/><rect x="1165" y="162" width="1" height="1"/><rect x="1168" y="162" width="1" height="1"/><rect x="1171" y="162" width="1" height="1"/><rect x="1174" y="162" width="1" height="1"/><rect x="1177" y="162" width="1" height="1"/><rect x="1180" y="162" width="1" height="1"/><rect x="1183" y="162" width="1" height="1"/><rect x="1186" y="162" width="1" height="1"/><rect x="1189" y="162" width="1" height="1"/><rect x="1192" y="162" width="1" height="1"/><rect x="1195" y="162" width="1" height="1"/><rect x="1198" y="162" width="1" height="1"/><rect x="1201" y="162" width="1" height="1"/><rect x="1204" y="162" width="1" height="1"/><rect x="1207" y="162" width="1" height="1"/><rect x="1210" y="162" width="1" height="1"/><rect x="1213" y="162" width="1" height="1"/><rect x="1216" y="162" width="1" height="1"/><rect x="1219" y="162" width="1" height="1"/><rect x="1222" y="162" width="1" height="1"/><rect x="1225" y="162" width="1" height="1"/><rect x="1228" y="162" width="1" height="1"/><rect x="1231" y="162" width="1" height="1"/><rect x="1234" y="162" width="1" height="1"/><rect x="1237" y="162" width="1" height="1"/><rect x="1240" y="162" width="1" height="1"/><rect x="1243" y="162" width="1" height="1"/><rect x="1246" y="162" width="1" height="1"/><rect x="1249" y="162" width="1" height="1"/><rect x="1252" y="162" width="1" height="1"/><rect x="1255" y="162" width="1" height="1"/><rect x="1258" y="162" width="1" height="1"/><rect x="1261" y="162" width="1" height="1"/><rect x="1264" y="162" width="1" height="1"/><rect x="1267" y="162" width="1" height="1"/><rect x="1270" y="162" width="1" height="1"/><rect x="1273" y="162" width="1" height="1"/><rect x="1276" y="162" width="1" height="1"/><rect x="1279" y="162" width="1" height="1"/><rect x="1282" y="162" width="1" height="1"/><rect x="1285" y="162" width="1" height="1"/><rect x="1288" y="162" width="1" height="1"/><rect x="1291" y="162" width="1" height="1"/><rect x="1294" y="162" width="1" height="1"/><rect x="1297" y="162" width="1" height="1"/><rect x="1300" y="162" width="1" height="1"/><rect x="1303" y="162" width="1" height="1"/><rect x="1306" y="162" width="1" height="1"/><rect x="1309" y="162" width="1" height="1"/><rect x="1312" y="162" width="1" height="1"/><rect x="1315" y="162" width="1" height="1"/><rect x="1318" y="162" width="1" height="1"/><rect x="1321" y="162" width="1" height="1"/><rect x="1324" y="162" width="1" height="1"/><rect x="1327" y="162" width="1" height="1"/><rect x="1330" y="162" width="1" height="1"/><rect x="1333" y="162" width="1" height="1"/><rect x="1336" y="162" width="1" height="1"/><rect x="1339" y="162" width="1" height="1"/><rect x="1342" y="162" width="1" height="1"/><rect x="1345" y="162" width="1" height="1"/><rect x="1348" y="162" width="1" height="1"/><rect x="1351" y="162" width="1" height="1"/><rect x="1354" y="162" width="1" height="1"/><rect x="1357" y="162" width="1" height="1"/><rect x="1360" y="162" width="1" height="1"/><rect x="1363" y="162" width="1" height="1"/><rect x="1366" y="162" width="1" height="1"/><rect x="1369" y="162" width="1" height="1"/><rect x="1372" y="162" width="1" height="1"/><rect x="1375" y="162" width="1" height="1"/><rect x="1378" y="162" width="1" height="1"/><rect x="1381" y="162" width="1" height="1"/><rect x="1384" y="162" width="1" height="1"/><rect x="1387" y="162" width="1" height="1"/><rect x="1390" y="162" width="1" height="1"/><rect x="1393" y="162" width="1" height="1"/><rect x="1396" y="162" width="1" height="1"/><rect x="1399" y="162" width="1" height="1"/><rect x="1402" y="162" width="1" height="1"/><rect x="1405" y="162" width="1" height="1"/><rect x="1408" y="162" width="1" height="1"/><rect x="1411" y="162" width="1" height="1"/><rect x="1414" y="162" width="1" height="1"/><rect x="1417" y="162" width="1" height="1"/><rect x="1420" y="162" width="1" height="1"/><rect x="1423" y="162" width="1" height="1"/><rect x="1426" y="162" width="1" height="1"/><rect x="1429" y="162" width="1" height="1"/><rect x="1432" y="162" width="1" height="1"/><rect x="1435" y="162" width="1" height="1"/><rect x="1438" y="162" width="1" height="1"/><rect x="1441" y="162" width="1" height="1"/><rect x="1444" y="162" width="1" height="1"/><rect x="1447" y="162" width="1" height="1"/><rect x="1450" y="162" width="1" height="1"/><rect x="1453" y="162" width="1" height="1"/><rect x="1456" y="162" width="1" height="1"/><rect x="1459" y="162" width="1" height="1"/><rect x="1462" y="162" width="1" height="1"/><rect x="1465" y="162" width="1" height="1"/><rect x="1468" y="162" width="1" height="1"/><rect x="1471" y="162" width="1" height="1"/><rect x="1474" y="162" width="1" height="1"/><rect x="1477" y="162" width="1" height="1"/><rect x="1480" y="162" width="1" height="1"/><rect x="1483" y="162" width="1" height="1"/><rect x="1486" y="162" width="1" height="1"/><rect x="1489" y="162" width="1" height="1"/><rect x="1492" y="162" width="1" height="1"/><rect x="1495" y="162" width="1" height="1"/><rect x="1498" y="162" width="1" height="1"/><rect x="1501" y="162" width="1" height="1"/><rect x="1504" y="162" width="1" height="1"/><rect x="1507" y="162" width="1" height="1"/><rect x="1510" y="162" width="1" height="1"/><rect x="1513" y="162" width="1" height="1"/><rect x="1516" y="162" width="1" height="1"/><rect x="1519" y="162" width="1" height="1"/><rect x="1522" y="162" width="1" height="1"/><rect x="1525" y="162" width="1" height="1"/><rect x="1528" y="162" width="1" height="1"/><rect x="1531" y="162" width="1" height="1"/><rect x="1534" y="162" width="1" height="1"/><rect x="1537" y="162" width="1" height="1"/><rect x="1540" y="162" width="1" height="1"/><rect x="1543" y="162" width="1" height="1"/><rect x="1546" y="162" width="1" height="1"/><rect x="1549" y="162" width="1" height="1"/></g>
</g>
<line x1="2" y1="590.5" x2="1551" y2="590.5" stroke="#787b86" stroke-width="1" stroke-dasharray="5 6" stroke-dashoffset="1" shape-rendering="crispEdges"/>
<line x1="2" y1="658.5" x2="1551" y2="658.5" stroke="#787b86" stroke-width="1" stroke-dasharray="5 6" stroke-dashoffset="1" shape-rendering="crispEdges"/>
<line x1="2" y1="726.5" x2="1551" y2="726.5" stroke="#787b86" stroke-width="1" stroke-dasharray="5 6" stroke-dashoffset="1" shape-rendering="crispEdges"/>
<polyline fill="none" stroke="#a055c8" stroke-width="1.3" stroke-linejoin="round" stroke-linecap="round" points="0.0,556.0 3.0,552.7 16.0,623.8 28.0,629.9 40.0,625.0 53.0,628.9 65.0,659.5 78.0,665.0 90.0,669.3 103.0,649.5 115.0,654.0 127.0,652.4 140.0,668.9 152.0,657.9 165.0,658.5 177.0,652.4 190.0,628.3 202.0,624.4 215.0,611.9 227.0,621.7 239.0,643.8 252.0,655.7 264.0,648.9 277.0,647.1 289.0,646.9 302.0,649.7 314.0,632.4 327.0,632.4 339.0,623.4 351.0,626.6 364.0,610.5 376.0,606.2 389.0,618.1 401.0,619.9 414.0,618.5 426.0,622.1 438.0,628.1 451.0,620.3 463.0,614.6 476.0,599.9 488.0,593.3 501.0,591.9 513.0,591.9 526.0,581.1 538.0,585.8 550.0,584.1 563.0,559.8 575.0,549.8 588.0,561.3 600.0,552.9 613.0,642.6 625.0,640.9 638.0,650.5 650.0,649.1 662.0,644.8 675.0,613.6 687.0,602.9 700.0,619.0 712.0,612.9 725.0,605.7 737.0,589.0 749.0,592.3 762.0,583.8 774.0,596.2 787.0,605.5 799.0,587.1 812.0,574.5 824.0,565.4 837.0,554.9 849.0,549.1 861.0,543.2 874.0,534.3 886.0,524.5 899.0,523.9 911.0,644.0 924.0,668.5 936.0,636.6 949.0,637.4 961.0,652.4 973.0,640.5 986.0,626.4 998.0,632.6 1011.0,627.3 1023.0,649.4 1036.0,637.4 1048.0,642.5 1060.0,656.2 1073.0,644.4 1085.0,642.5 1098.0,631.8 1110.0,618.3 1123.0,628.8 1135.0,630.5 1148.0,625.8 1160.0,618.3 1172.0,610.8 1185.0,647.9 1197.0,643.6 1210.0,651.5 1222.0,641.9 1235.0,644.2 1247.0,637.1 1260.0,639.3 1272.0,656.2 1284.0,665.5 1297.0,663.6"/>
<rect x="2" y="498" width="1628" height="1" fill="#e0e3eb" shape-rendering="crispEdges"/>
<text x="11.0" y="26.0" textLength="280.8" lengthAdjust="spacingAndGlyphs" fill="#131722">Gold US Dollars per Ounce Spot Prices, 1D</text>
<text x="301.3" y="26.0" textLength="10.3" lengthAdjust="spacingAndGlyphs" fill="#131722">O</text>
<text x="312.4" y="26.0" textLength="57.0" lengthAdjust="spacingAndGlyphs" fill="#089981">5,006.10</text>
<text x="378.8" y="26.0" textLength="10.0" lengthAdjust="spacingAndGlyphs" fill="#131722">H</text>
<text x="389.3" y="26.0" textLength="57.6" lengthAdjust="spacingAndGlyphs" fill="#089981">5,038.06</text>
<text x="456.0" y="26.0" textLength="7.0" lengthAdjust="spacingAndGlyphs" fill="#131722">L</text>
<text x="463.1" y="26.0" textLength="58.7" lengthAdjust="spacingAndGlyphs" fill="#089981">4,967.70</text>
<text x="530.5" y="26.0" textLength="9.1" lengthAdjust="spacingAndGlyphs" fill="#131722">C</text>
<text x="540.0" y="26.0" textLength="57.4" lengthAdjust="spacingAndGlyphs" fill="#089981">5,031.99</text>
<text x="607.4" y="26.0" textLength="36.1" lengthAdjust="spacingAndGlyphs" fill="#089981">12.80</text>
<text x="649.3" y="26.0" textLength="56.1" lengthAdjust="spacingAndGlyphs" fill="#089981">(+0.26%)</text>
<text x="10.5" y="47.0" textLength="121.3" lengthAdjust="spacingAndGlyphs" fill="#131722">MA (100, close, 0)</text>
<text x="140.9" y="47.0" textLength="57.6" lengthAdjust="spacingAndGlyphs" fill="#2196f3">4,573.52</text>
<text x="10.5" y="68.0" textLength="112.9" lengthAdjust="spacingAndGlyphs" fill="#131722">MA (50, close, 0)</text>
<text x="132.7" y="68.0" textLength="58.1" lengthAdjust="spacingAndGlyphs" fill="#2962ff">4,955.64</text>
<text x="11.0" y="524.2" textLength="51.2" lengthAdjust="spacingAndGlyphs" fill="#131722">RSI (14)</text>
<text x="71.7" y="524.2" textLength="36.6" lengthAdjust="spacingAndGlyphs" fill="#a055c8">48.33</text>
<text x="1561.3" y="15.9" textLength="57.9" lengthAdjust="spacingAndGlyphs" fill="#131722">5,800.00</text>
<text x="1561.3" y="55.0" textLength="57.9" lengthAdjust="spacingAndGlyphs" fill="#131722">5,600.00</text>
<text x="1561.3" y="94.1" textLength="57.9" lengthAdjust="spacingAndGlyphs" fill="#131722">5,400.00</text>
<text x="1561.3" y="133.1" textLength="57.9" lengthAdjust="spacingAndGlyphs" fill="#131722">5,200.00</text>
<text x="1561.3" y="172.2" textLength="57.9" lengthAdjust="spacingAndGlyphs" fill="#131722">5,000.00</text>
<text x="1561.3" y="211.3" textLength="57.9" lengthAdjust="spacingAndGlyphs" fill="#131722">4,800.00</text>
<text x="1561.3" y="250.4" textLength="57.9" lengthAdjust="spacingAndGlyphs" fill="#131722">4,600.00</text>
<text x="1561.3" y="289.4" textLength="57.9" lengthAdjust="spacingAndGlyphs" fill="#131722">4,400.00</text>
<text x="1561.3" y="328.5" textLength="57.9" lengthAdjust="spacingAndGlyphs" fill="#131722">4,200.00</text>
<text x="1561.3" y="367.6" textLength="57.9" lengthAdjust="spacingAndGlyphs" fill="#131722">4,000.00</text>
<text x="1561.3" y="406.6" textLength="57.9" lengthAdjust="spacingAndGlyphs" fill="#131722">3,800.00</text>
<text x="1561.3" y="445.7" textLength="57.9" lengthAdjust="spacingAndGlyphs" fill="#131722">3,600.00</text>
<text x="1561.3" y="484.8" textLength="57.9" lengthAdjust="spacingAndGlyphs" fill="#131722">3,400.00</text>
<text x="1560.8" y="559.9" textLength="37.3" lengthAdjust="spacingAndGlyphs" fill="#131722">80.00</text>
<text x="1560.8" y="628.9" textLength="37.3" lengthAdjust="spacingAndGlyphs" fill="#131722">60.00</text>
<text x="1560.8" y="696.9" textLength="37.3" lengthAdjust="spacingAndGlyphs" fill="#131722">40.00</text>
<path d="M1551 152H1624a2 2 0 0 1 2 2V171a2 2 0 0 1 -2 2H1551Z" fill="#089981"/>
<text x="1561.3" y="166.8" textLength="57.9" lengthAdjust="spacingAndGlyphs" fill="#ffffff">5,031.99</text>
<path d="M1551 173H1624a2 2 0 0 1 2 2V192a2 2 0 0 1 -2 2H1551Z" fill="#2962ff"/>
<text x="1561.3" y="187.6" textLength="57.9" lengthAdjust="spacingAndGlyphs" fill="#ffffff">4,955.64</text>
<path d="M1551 241H1624a2 2 0 0 1 2 2V260a2 2 0 0 1 -2 2H1551Z" fill="#2196f3"/>
<text x="1561.3" y="255.6" textLength="57.9" lengthAdjust="spacingAndGlyphs" fill="#ffffff">4,573.52</text>
<path d="M1551 653H1603a2 2 0 0 1 2 2V672a2 2 0 0 1 -2 2H1551Z" fill="#9d55c5"/>
<text x="1560.3" y="669.0" textLength="37.3" lengthAdjust="spacingAndGlyphs" fill="#ffffff">48.33</text>
<text x="115.1" y="770.1" textLength="25.0" lengthAdjust="spacingAndGlyphs" fill="#131722">Nov</text>
<text x="231.9" y="770.1" textLength="15.6" lengthAdjust="spacingAndGlyphs" fill="#131722">14</text>
<text x="364.2" y="770.1" textLength="24.3" lengthAdjust="spacingAndGlyphs" fill="#131722">Dec</text>
<text x="480.6" y="770.1" textLength="15.2" lengthAdjust="spacingAndGlyphs" fill="#131722">12</text>
<text x="633.2" y="770.1" textLength="34.2" lengthAdjust="spacingAndGlyphs" fill="#131722" font-weight="bold">2026</text>
<text x="754.2" y="770.1" textLength="15.6" lengthAdjust="spacingAndGlyphs" fill="#131722">14</text>
<text x="911.8" y="770.1" textLength="24.4" lengthAdjust="spacingAndGlyphs" fill="#131722">Feb</text>
<text x="1028.0" y="770.1" textLength="15.2" lengthAdjust="spacingAndGlyphs" fill="#131722">13</text>
<text x="1159.9" y="770.1" textLength="25.4" lengthAdjust="spacingAndGlyphs" fill="#131722">Mar</text>
<text x="1277.2" y="770.1" textLength="15.2" lengthAdjust="spacingAndGlyphs" fill="#131722">13</text>
<text x="1484.5" y="770.1" textLength="23.2" lengthAdjust="spacingAndGlyphs" fill="#131722">Apr</text>
<path d="M0 0H1632V783H0Z M1 2V781H1630V2Z" fill="#eceef3" fill-rule="evenodd" shape-rendering="crispEdges"/>
</svg></body></html>
